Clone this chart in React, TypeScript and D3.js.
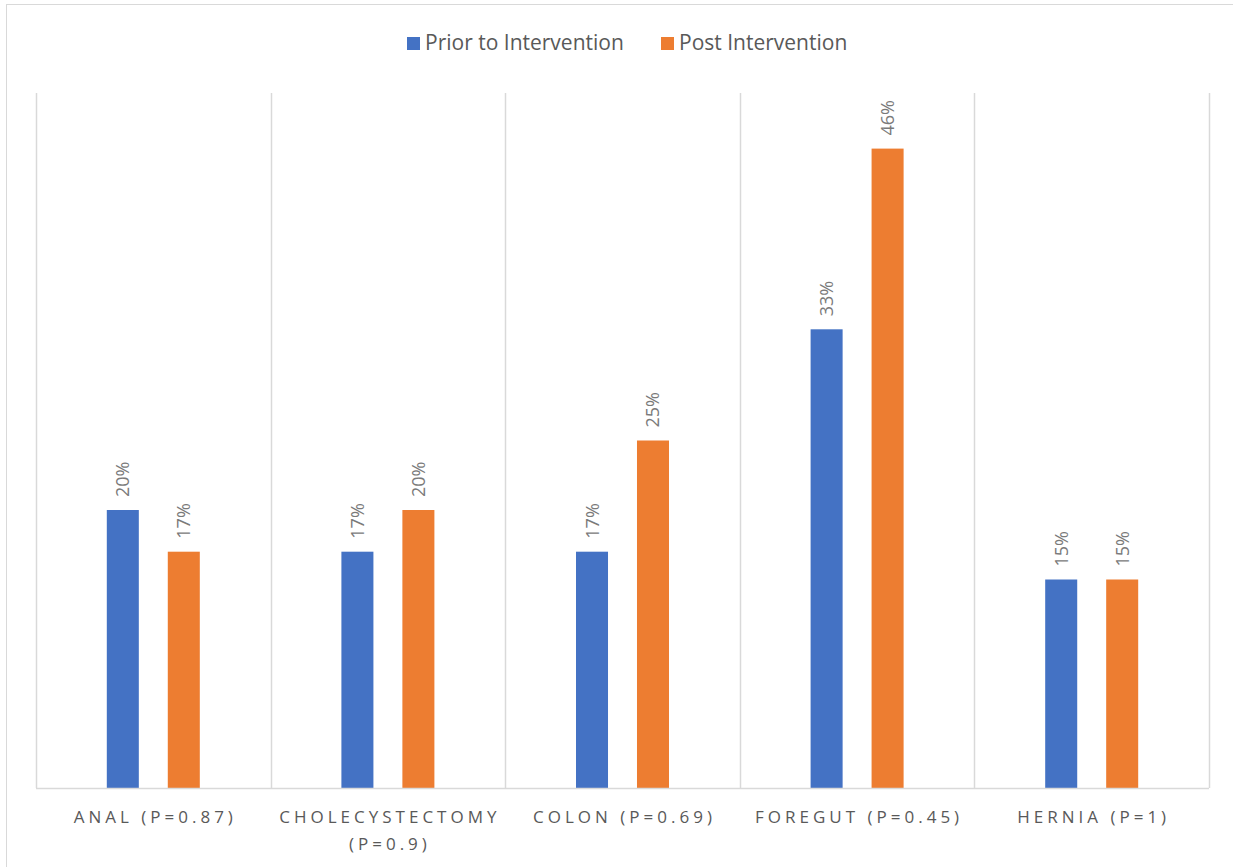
import { useRef, useEffect } from 'react';
import * as d3 from 'd3';

const categories = ['ANAL (P=0.87)', 'CHOLECYSTECTOMY (P=0.9)', 'COLON (P=0.69)', 'FOREGUT (P=0.45)', 'HERNIA (P=1)'];
const categoryLines = [['ANAL (P=0.87)'], ['CHOLECYSTECTOMY', '(P=0.9)'], ['COLON (P=0.69)'], ['FOREGUT (P=0.45)'], ['HERNIA (P=1)']];
const seriesNames = ['Prior to Intervention', 'Post Intervention'];
const priorValues = [20, 17, 17, 33, 15];
const postValues = [17, 20, 25, 46, 15];
const colors = ['#4472C4', '#ED7D31'];

export default function App() {
  const svgRef = useRef<SVGSVGElement>(null);

  useEffect(() => {
    const svgWidth = 1233;
    const svgHeight = 867;
    const margin = { top: 93, left: 36, right: 24, bottom: 79 };
    const width = svgWidth - margin.left - margin.right;
    const height = svgHeight - margin.top - margin.bottom;

    const svg = d3.select(svgRef.current).attr('width', svgWidth).attr('height', svgHeight);
    svg.selectAll('*').remove();

    // chart frame (runs off the right/bottom of the picture)
    svg
      .append('rect')
      .attr('x', 6.5)
      .attr('y', 4.5)
      .attr('width', 1240)
      .attr('height', 880)
      .attr('fill', 'white')
      .attr('stroke', '#d9d9d9')
      .attr('stroke-width', 1);

    const g = svg.append('g').attr('transform', `translate(${margin.left}, ${margin.top})`);

    const xScale = d3.scaleBand().domain(categories).range([0, width]).padding(0);
    const inner = d3.scaleBand().domain(seriesNames).range([70.8, xScale.bandwidth() - 70.8]).paddingInner(0.475);
    const yScale = d3.scaleLinear().domain([0, 50]).range([height, 0]);

    // vertical category separators
    const seps = [...categories.map((c) => xScale(c) as number), width];
    g.selectAll('.sep')
      .data(seps)
      .join('line')
      .attr('class', 'sep')
      .attr('x1', (d) => Math.round(d) + 0.5)
      .attr('x2', (d) => Math.round(d) + 0.5)
      .attr('y1', 0)
      .attr('y2', height)
      .attr('stroke', '#d9d9d9')
      .attr('stroke-width', 1.5);

    const rows = categories.map((c, i) => ({ cat: c, values: [priorValues[i], postValues[i]] }));

    const groups = g
      .selectAll('.grp')
      .data(rows)
      .join('g')
      .attr('class', 'grp')
      .attr('transform', (d) => `translate(${xScale(d.cat)}, 0)`);

    groups
      .selectAll('rect')
      .data((d) => d.values.map((v, j) => ({ v, s: seriesNames[j], j })))
      .join('rect')
      .attr('x', (d) => inner(d.s) as number)
      .attr('y', (d) => yScale(d.v))
      .attr('width', inner.bandwidth())
      .attr('height', (d) => height - yScale(d.v))
      .attr('fill', (d) => colors[d.j]);

    groups
      .selectAll('.lbl')
      .data((d) => d.values.map((v, j) => ({ v, s: seriesNames[j] })))
      .join('text')
      .attr('class', 'lbl')
      .attr('transform', (d) => {
        const cx = (inner(d.s) as number) + inner.bandwidth() / 2;
        return `translate(${cx + 6.5}, ${yScale(d.v) - 13}) rotate(-90)`;
      })
      .attr('font-family', 'Open Sans, sans-serif')
      .attr('font-size', 18)
      .attr('fill', '#7a7a7a')
      .text((d) => `${d.v}%`);

    // baseline
    g.append('line')
      .attr('x1', 0)
      .attr('x2', width)
      .attr('y1', height + 0.5)
      .attr('y2', height + 0.5)
      .attr('stroke', '#d9d9d9')
      .attr('stroke-width', 1.5);

    // category labels
    const catLabels = g
      .selectAll('.cat')
      .data(categories)
      .join('text')
      .attr('class', 'cat')
      .attr('x', (d) => (xScale(d) as number) + xScale.bandwidth() / 2 + 2)
      .attr('y', height + 35)
      .attr('text-anchor', 'middle')
      .attr('font-family', 'Open Sans, sans-serif')
      .attr('font-size', 17)
      .attr('letter-spacing', 4)
      .attr('fill', '#595959');
    catLabels
      .selectAll('tspan')
      .data((d, i) => categoryLines[i])
      .join('tspan')
      .attr('x', function () {
        return (this.parentNode as SVGTextElement).getAttribute('x');
      })
      .attr('dy', (d, i) => (i === 0 ? 0 : 27))
      .text((d) => d);

    // legend
    const legendItems = [
      { name: seriesNames[0], x: 407 },
      { name: seriesNames[1], x: 661 },
    ];
    const legend = svg.append('g');
    legendItems.forEach((item, i) => {
      legend
        .append('rect')
        .attr('x', item.x)
        .attr('y', 37)
        .attr('width', 13)
        .attr('height', 13)
        .attr('fill', colors[i]);
      legend
        .append('text')
        .attr('x', item.x + 18)
        .attr('y', 50)
        .attr('font-family', 'Open Sans, sans-serif')
        .attr('font-size', 21)
        .attr('fill', '#595959')
        .text(item.name);
    });
  }, []);

  return (
    <div>
      <svg ref={svgRef} style={{ position: 'absolute', left: 0, top: 0 }} />
    </div>
  );
}
